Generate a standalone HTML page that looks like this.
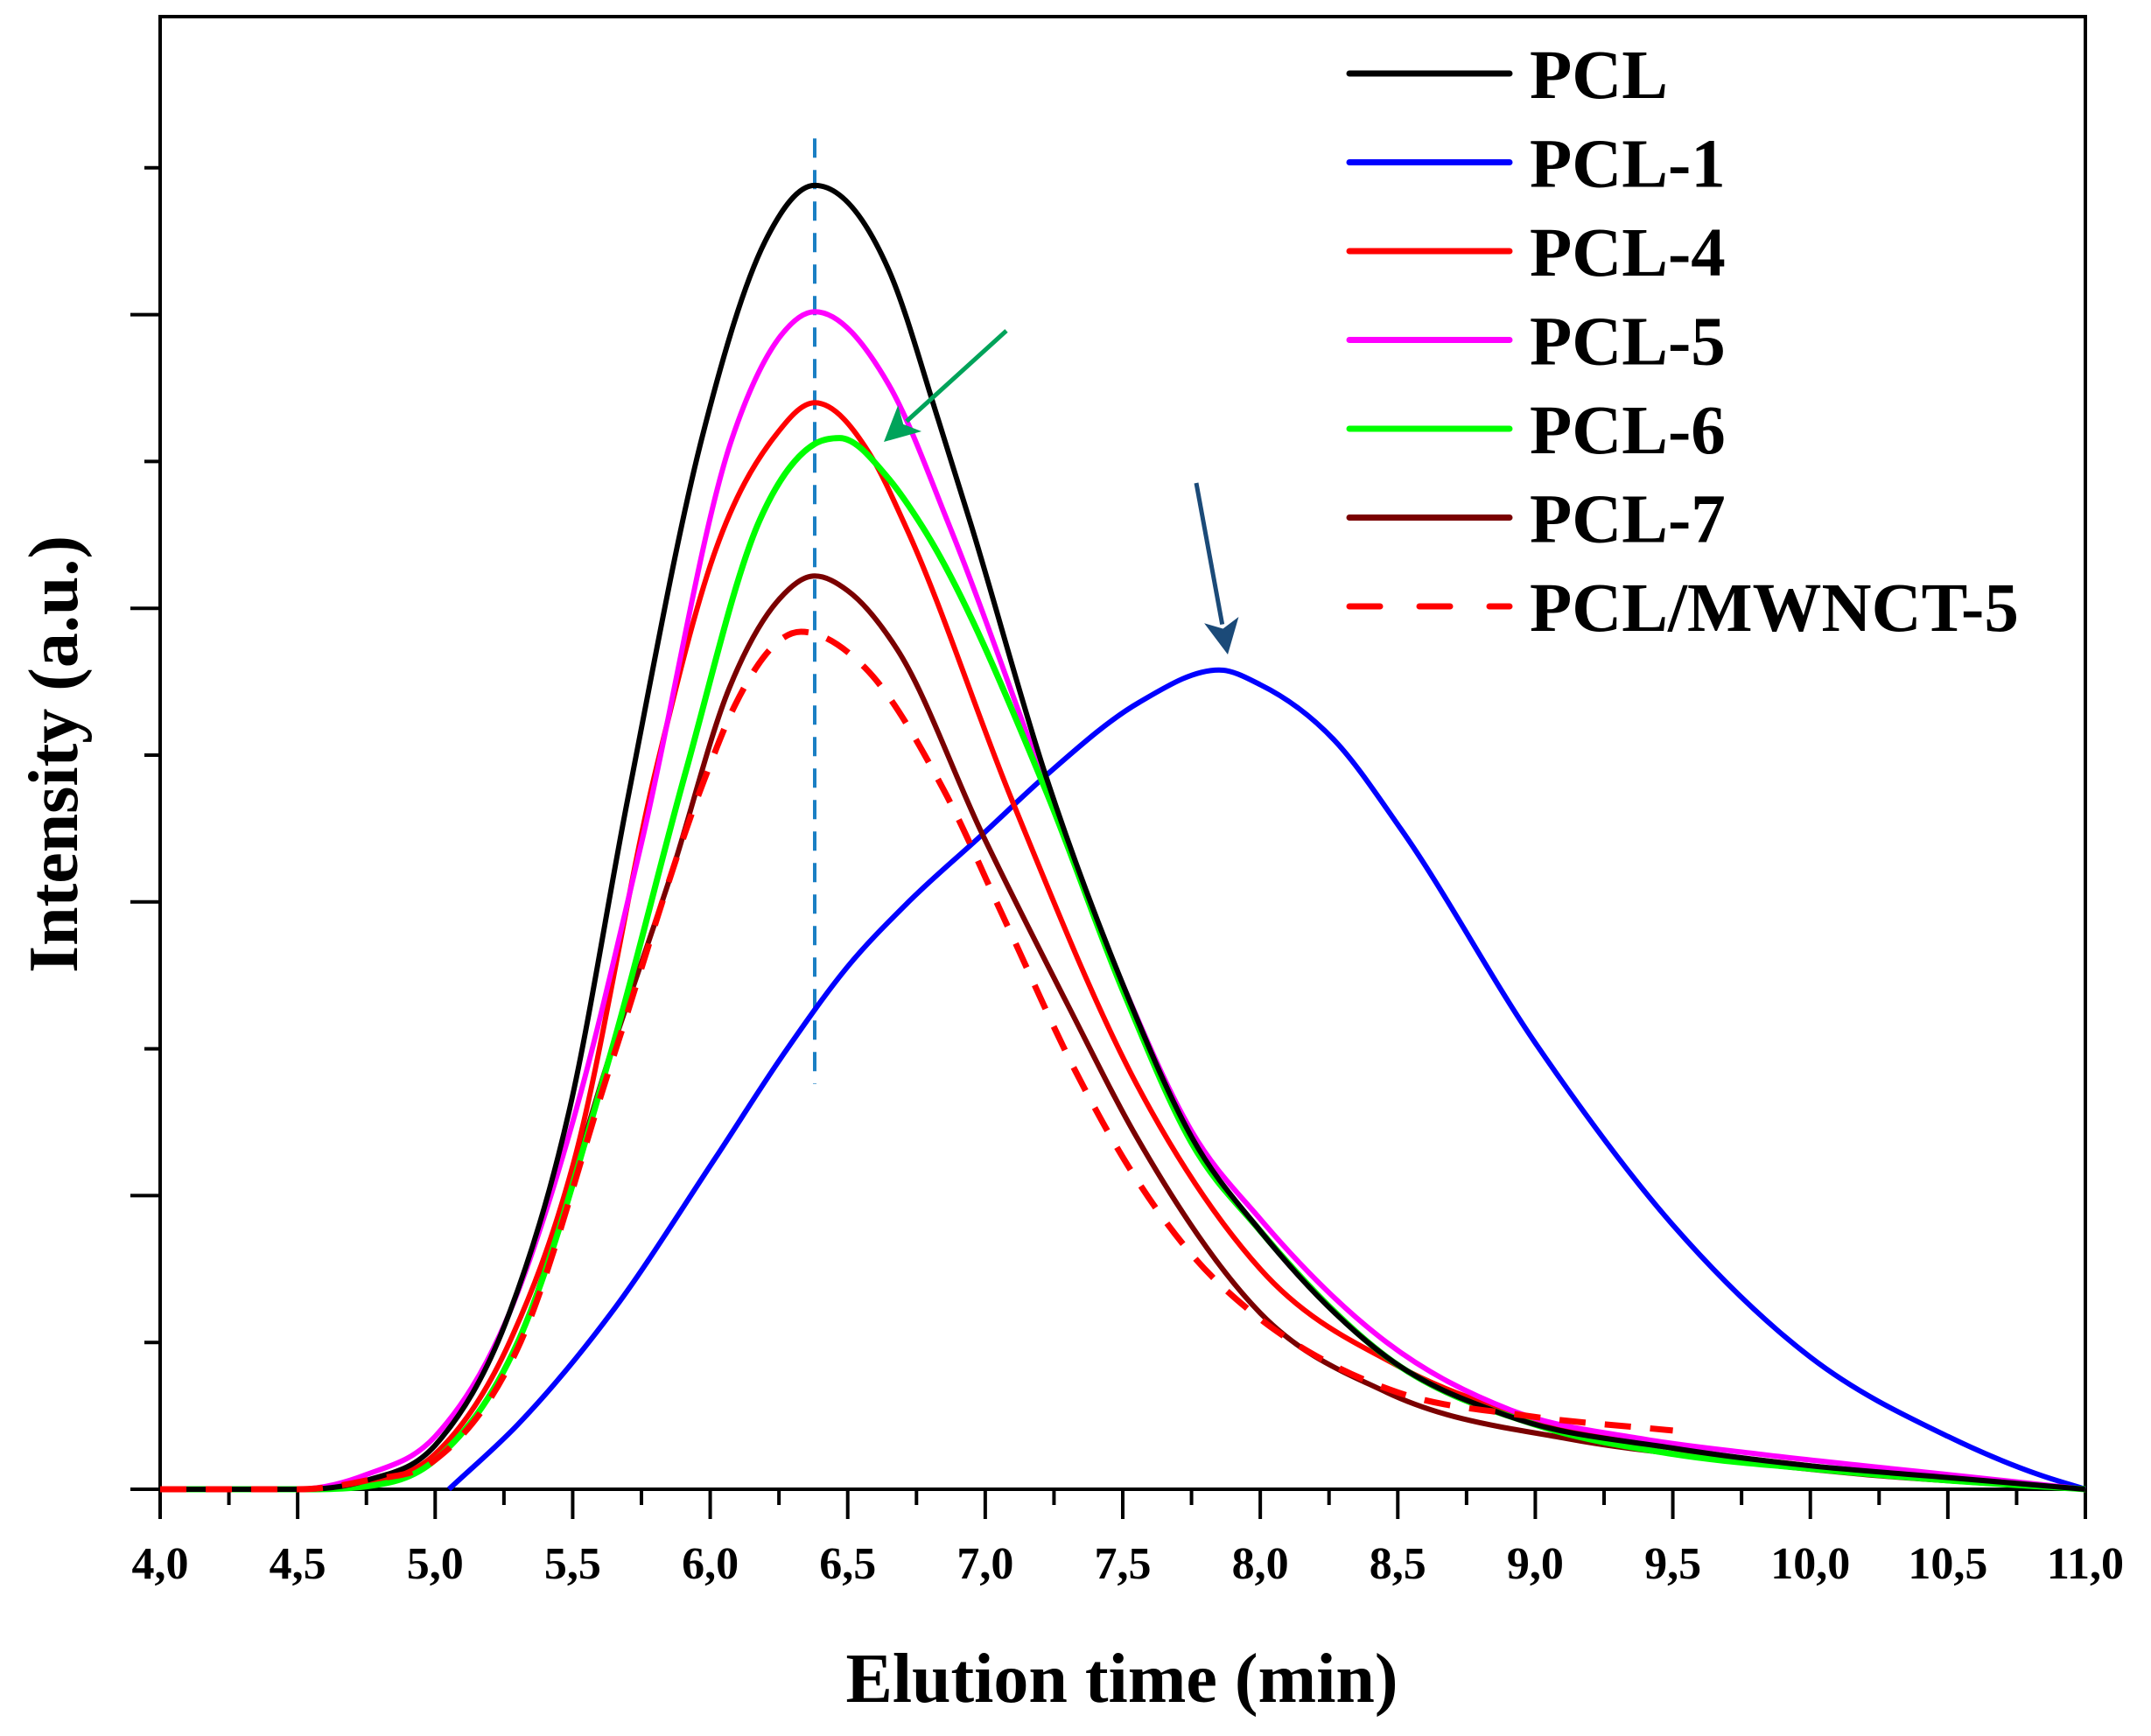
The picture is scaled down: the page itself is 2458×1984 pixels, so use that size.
<!DOCTYPE html>
<html><head><meta charset="utf-8"><style>
html,body{margin:0;padding:0;background:#fff;}
svg{display:block;}
text{font-family:"Liberation Serif",serif;font-weight:bold;fill:#000;}
</style></head><body>
<svg id="chart" width="2458" height="1984" viewBox="0 0 2458 1984" xmlns="http://www.w3.org/2000/svg">
<g id="plot"></g>
</svg>
<script>
const xPcl  = [4.0,4.5,4.75,5.0,5.27,5.49,5.70,5.97,6.2,6.38,6.65,6.83,6.95,7.22,7.5,7.75,8.0,8.46,8.9,9.5,10.0,10.5,11.0];
const pcl   = [0,0,0.03,0.15,0.6,1.3,2.35,3.58,4.25,4.44,4.15,3.64,3.28,2.43,1.72,1.2,0.88,0.45,0.25,0.14,0.08,0.04,0];
const xPcl5 = [4.0,4.5,4.75,5.0,5.27,5.5,5.75,6.08,6.25,6.38,6.65,6.87,7.22,7.5,7.75,8.0,8.46,8.91,9.4,9.81,10.5,11.0];
const pcl5  = [0,0,0.05,0.18,0.6,1.25,2.2,3.58,3.92,4.01,3.76,3.28,2.4,1.72,1.22,0.92,0.5,0.27,0.17,0.12,0.05,0];
const xPcl4 = [4.0,4.5,4.75,5.0,5.27,5.5,5.8,6.02,6.23,6.38,6.59,6.71,7.1,7.55,8.0,8.5,9.0,9.5,10.0,10.5,11.0];
const pcl4  = [0,0,0.02,0.12,0.5,1.1,2.44,3.2,3.58,3.70,3.51,3.28,2.34,1.38,0.75,0.42,0.24,0.14,0.08,0.03,0];
const xPcl6 = [4.0,4.5,4.75,5.0,5.3,5.64,5.91,6.18,6.38,6.47,6.65,6.77,7.22,7.5,7.75,8.0,8.46,9.0,9.5,10.0,10.5,11.0];
const pcl6  = [0,0,0.01,0.1,0.5,1.49,2.44,3.30,3.56,3.58,3.44,3.28,2.38,1.7,1.18,0.88,0.45,0.22,0.12,0.07,0.03,0];
const xPcl7 = [4.0,4.5,4.75,5.0,5.3,5.64,5.86,6.07,6.25,6.38,6.5,6.68,6.99,7.3,7.55,8.0,8.46,9.13,9.6,10.2,11.0];
const pcl7  = [0,0,0.02,0.1,0.5,1.49,2.1,2.73,3.03,3.11,3.06,2.86,2.23,1.65,1.2,0.6,0.33,0.17,0.11,0.05,0];
const xDash = [4.0,4.5,4.75,5.0,5.3,5.64,5.98,6.09,6.33,6.56,6.85,7.08,7.33,7.52,7.75,8.0,8.25,8.5,8.97,9.5];
const mwnct = [0,0,0.03,0.1,0.48,1.45,2.42,2.67,2.92,2.8,2.38,1.92,1.42,1.1,0.8,0.58,0.43,0.33,0.25,0.2];
const xBlue = [5.05,5.3,5.64,6.02,6.28,6.5,6.71,6.99,7.22,7.56,7.85,8.0,8.27,8.51,9.0,9.5,10.0,10.5,10.83,11.0];
const pcl1  = [0,0.22,0.6,1.13,1.5,1.78,1.99,2.23,2.43,2.68,2.79,2.74,2.55,2.25,1.52,0.9,0.45,0.18,0.05,0];
const xTickLabels = ["4,0","4,5","5,0","5,5","6,0","6,5","7,0","7,5","8,0","8,5","9,0","9,5","10,0","10,5","11,0"];
const legendNames = ["PCL","PCL-1","PCL-4","PCL-5","PCL-6","PCL-7","PCL/MWNCT-5"];

const L=183,R=2383,T=19,B=1702,XMIN=4,XMAX=11,YU=335.6;
const sx=v=>L+(v-XMIN)/(XMAX-XMIN)*(R-L);
const sy=v=>B-v*YU;
const NS="http://www.w3.org/2000/svg";
const g=document.getElementById('plot');
function mk(tag,attrs,parent){const e=document.createElementNS(NS,tag);for(const k in attrs)e.setAttribute(k,attrs[k]);(parent||g).appendChild(e);return e;}
function pathD(xs,ys){
  const n=xs.length,X=xs.map(sx),Y=ys.map(sy);
  const d=[],m=new Array(n);
  for(let i=0;i<n-1;i++)d.push((Y[i+1]-Y[i])/(X[i+1]-X[i]));
  m[0]=d[0];m[n-1]=d[n-2];
  for(let i=1;i<n-1;i++){
    if(d[i-1]*d[i]<=0){m[i]=0;}
    else{const h0=X[i]-X[i-1],h1=X[i+1]-X[i];m[i]=(d[i-1]*h1+d[i]*h0)/(h0+h1);}
  }
  for(let i=0;i<n-1;i++){
    if(d[i]===0){m[i]=0;m[i+1]=0;continue;}
    const a=m[i]/d[i],b=m[i+1]/d[i],s=a*a+b*b;
    if(s>9){const t=3/Math.sqrt(s);m[i]=t*a*d[i];m[i+1]=t*b*d[i];}
  }
  let p="M"+X[0].toFixed(1)+","+Y[0].toFixed(1);
  for(let i=0;i<n-1;i++){
    const h=(X[i+1]-X[i])/3;
    p+=" C"+(X[i]+h).toFixed(1)+","+(Y[i]+m[i]*h).toFixed(1)+" "+(X[i+1]-h).toFixed(1)+","+(Y[i+1]-m[i+1]*h).toFixed(1)+" "+X[i+1].toFixed(1)+","+Y[i+1].toFixed(1);
  }
  return p;
}
const fr=mk('rect',{x:L,y:T,width:R-L,height:B-T,fill:'none',stroke:'#000','stroke-width':4});


for(let i=0;i<=28;i++){
  const v=XMIN+i*0.25, major=i%2===0;
  const t=mk('line',{x1:sx(v),x2:sx(v),y1:B,y2:B+(major?34:18),stroke:'#000','stroke-width':4});
  
  
}
xTickLabels.forEach((s,i)=>{
  const t=mk('text',{x:sx(XMIN+i*0.5),y:1804,'text-anchor':'middle','font-size':52});
  t.textContent=s;
  
  
});
for(let i=0;i<=9;i++){
  const v=i*0.5, major=i%2===0;
  const t=mk('line',{x1:L-(major?34:18),x2:L,y1:sy(v),y2:sy(v),stroke:'#000','stroke-width':4});
  
  
}
const xt=mk('text',{x:1282,y:1945,'text-anchor':'middle','font-size':80});
xt.textContent='Elution time (min)';


const yt=mk('text',{x:0,y:0,'text-anchor':'middle','font-size':80,transform:'translate(88,862) rotate(-90)'});
yt.textContent='Intensity (a.u.)';


const vl=mk('line',{x1:sx(6.38),x2:sx(6.38),y1:sy(4.6),y2:sy(1.38),stroke:'#1a7fc4','stroke-width':4,'stroke-dasharray':'22,14'});


const series=[
 {n:'pcl1-line',xs:xBlue,ys:pcl1,c:'#0000ff',w:6},
 {n:'pcl7-line',xs:xPcl7,ys:pcl7,c:'#7a0000',w:6},
 {n:'pcl4-line',xs:xPcl4,ys:pcl4,c:'#ff0000',w:6},
 {n:'pcl5-line',xs:xPcl5,ys:pcl5,c:'#ff00ff',w:6},
 {n:'pcl6-line',xs:xPcl6,ys:pcl6,c:'#00ff00',w:7},
 {n:'pcl-line',xs:xPcl,ys:pcl,c:'#000000',w:6},
 {n:'pcl-mwnct5-line',xs:xDash,ys:mwnct,c:'#ff0000',w:7,dash:'30,22'}
];
series.forEach(s=>{
  const a={d:pathD(s.xs,s.ys),fill:'none',stroke:s.c,'stroke-width':s.w,'stroke-linejoin':'round'};
  if(s.dash)a['stroke-dasharray']=s.dash;
  const p=mk('path',a);
  
  
});
function arrow(x1,y1,x2,y2,col,name){
  const ag=mk('g',{});
  
  
  const dx=x2-x1,dy=y2-y1,len=Math.hypot(dx,dy),ux=dx/len,uy=dy/len;
  const hl=40,hw=20;
  const bx=x2-ux*hl,by=y2-uy*hl;
  mk('line',{x1:x1,y1:y1,x2:bx+ux*5,y2:by+uy*5,stroke:col,'stroke-width':5},ag);
  mk('polygon',{points:`${x2},${y2} ${bx-uy*hw},${by+ux*hw} ${bx+ux*10},${by+uy*10} ${bx+uy*hw},${by-ux*hw}`,fill:col},ag);
}
arrow(1150,378,1010,505,'#00a35a','green-arrow');
arrow(1367,552,1403,748,'#1b4a78','blue-arrow');
const legColors=['#000000','#0000ff','#ff0000','#ff00ff','#00ff00','#7a0000','#ff0000'];
const legG=mk('g',{});


legendNames.forEach((name,i)=>{
  const y=84+i*101.5;
  const eg=mk('g',{},legG);
  
  
  const a={x1:1542,x2:1725,y1:y,y2:y,stroke:legColors[i],'stroke-width':7,'stroke-linecap':'round'};
  if(i===6)a['stroke-dasharray']='35,45';
  mk('line',a,eg);
  const t=mk('text',{x:1748,y:y+28,'font-size':79},eg);
  t.textContent=name;
});
</script>
</body></html>
